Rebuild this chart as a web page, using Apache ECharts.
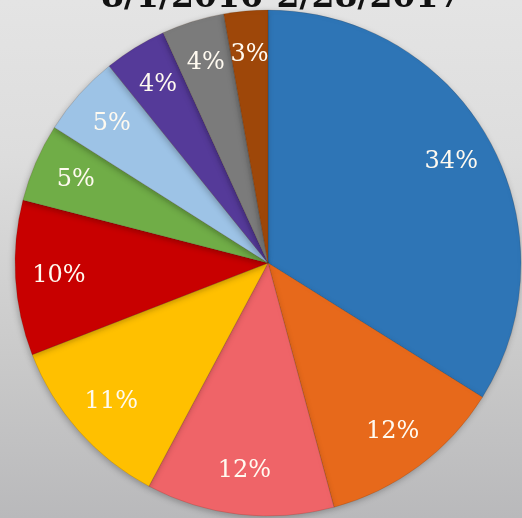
<!DOCTYPE html>
<html>
<head>
<meta charset="utf-8">
<script src="https://cdn.jsdelivr.net/npm/echarts@6/dist/echarts.min.js"></script>
<style>
html,body{margin:0;padding:0;}
#chart{width:522px;height:518px;}
</style>
</head>
<body>
<div id="chart"></div>
<script>
var titleText = '8/1/2016-2/28/2017';
var categories = ['Slice 1','Slice 2','Slice 3','Slice 4','Slice 5','Slice 6','Slice 7','Slice 8','Slice 9','Slice 10'];
var values = [33.9, 11.9, 12.0, 11.3, 9.9, 5.0, 5.2, 4.0, 4.0, 2.8];
var colors = ['#2e75b6','#e7691b','#ef6468','#ffc000','#c80000','#70ad47','#9dc3e6','#553a99','#7b7b7b','#9e4709'];

var data = categories.map(function(c, i){ return {name: c, value: values[i]}; });
var chart = echarts.init(document.getElementById('chart'));
var center = [268, 263];
chart.setOption({
  animation: false,
  backgroundColor: {type:'linear', x:0, y:0, x2:0, y2:1, colorStops:[
    {offset:0, color:'#e4e4e4'}, {offset:0.3, color:'#dddddd'}, {offset:0.7, color:'#c9c9c9'}, {offset:1, color:'#b9b9bb'}]},
  color: colors,
  title: {
    text: titleText, left: 96, top: -23,
    textStyle: {fontFamily:'DejaVu Serif', fontWeight:'bold', fontSize:33, color:'#111'}
  },
  series: [
    {
      type: 'pie', center: center, radius: [0, 253], startAngle: 90, clockwise: true,
      data: data, label: {show:false}, labelLine:{show:false},
      emphasis: {disabled: true},
      itemStyle: {borderWidth: 0.6, borderColor: 'rgba(60,30,0,0.25)', shadowBlur: 6, shadowColor: 'rgba(0,0,0,0.25)', shadowOffsetX: -1, shadowOffsetY: 2}
    },
    {
      type: 'pie', center: center, radius: [160, 253], startAngle: 90, clockwise: true,
      data: data, silent: true, percentPrecision: 0,
      itemStyle: {color: 'rgba(0,0,0,0)'},
      emphasis: {disabled: true},
      labelLine: {show:false},
      label: {show:true, position:'inside', formatter:'{d}%', fontFamily:'DejaVu Serif', fontSize:24, color:'#fffaf0'}
    }
  ]
});
</script>
</body>
</html>
